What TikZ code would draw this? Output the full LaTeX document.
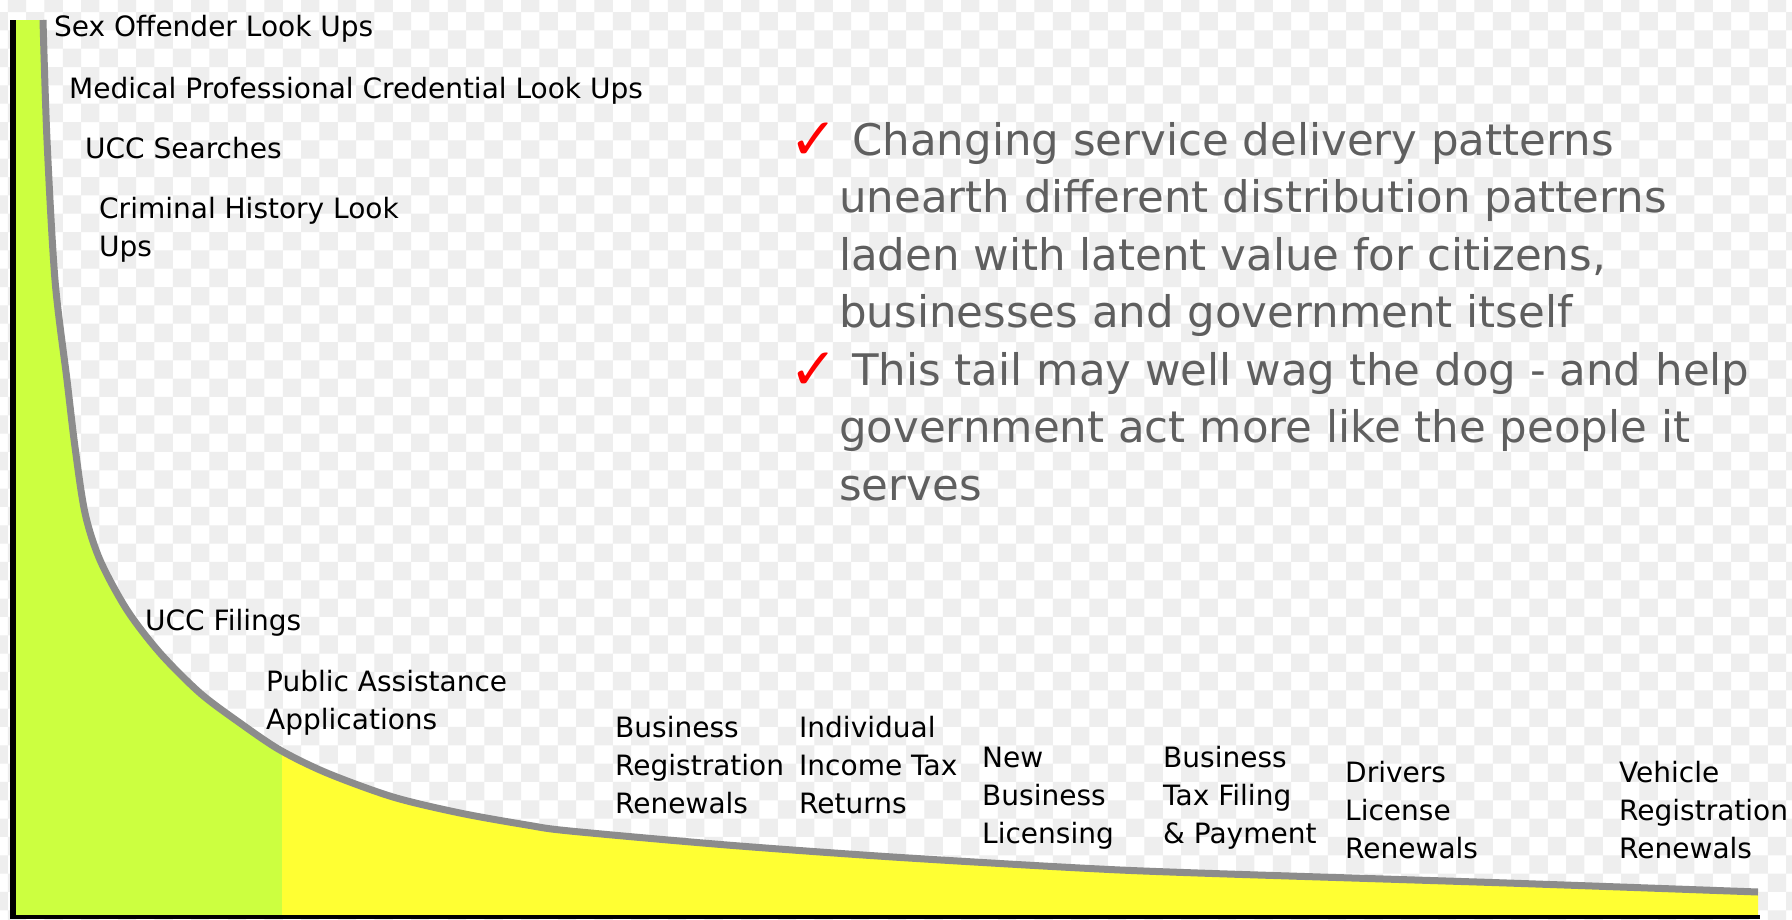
\documentclass[tikz,border=0pt]{standalone}
\usepackage{fontspec}
\setmainfont{DejaVu Sans}
\definecolor{limeg}{RGB}{204,255,64}
\definecolor{yel}{RGB}{255,255,51}
\definecolor{curvegray}{RGB}{140,140,140}
\definecolor{txtgray}{RGB}{95,95,95}
\definecolor{chk}{RGB}{238,238,238}
\begin{document}
\begin{tikzpicture}[x=1pt,y=-1pt,
  lbl/.style={anchor=north west, inner sep=0pt, align=left, font=\fontsize{28}{38}\selectfont},
  bul/.style={anchor=north west, inner sep=0pt, align=left, text=txtgray, font=\fontsize{43.5}{57.5}\selectfont},
  chkmark/.style={anchor=base west, inner sep=0pt, text=red, font=\fontsize{58}{60}\selectfont},
  curveline/.style={draw=curvegray, line width=7pt},
  axisline/.style={draw=black, line width=6pt},
  baseline/.style={draw=black, line width=4pt}]
\useasboundingbox (0,0) rectangle (1792,919);
\fill[white] (0,0) rectangle (1792,919);
% checkerboard background
\begin{scope}
\clip (0,0) rectangle (1792,919);
\fill[chk] \foreach \j in {-1,...,50} { \foreach \i in {-1,...,49} { ({7.8+(2*\i+mod(\j+1,2))*18.333},{12+\j*18.333}) rectangle ++(18.333,18.333) } };
\end{scope}
% filled area under the curve
\begin{scope}
\clip (13,20) -- plot[smooth] coordinates {(43,20) (47,140) (55,280) (67,380) (75,447) (85,513) (100,560) (127,610) (160,653) (200,693) (240,723) (280,750) (327,773) (393,797) (460,813) (527,825) (570,831) (727,845) (893,857) (1080,868) (1198,873) (1507,883) (1758,892)} -- (1758,917) -- (13,917) -- cycle;
\fill[limeg] (0,0) rectangle (282,919);
\fill[yel] (282,0) rectangle (1792,919);
\end{scope}
% curve
\draw[curveline] plot[smooth] coordinates {(43,20) (47,140) (55,280) (67,380) (75,447) (85,513) (100,560) (127,610) (160,653) (200,693) (240,723) (280,750) (327,773) (393,797) (460,813) (527,825) (570,831) (727,845) (893,857) (1080,868) (1198,873) (1507,883) (1758,892)};
% axes
\coordinate (top) at (13,20);
\coordinate (origin) at (13,917);
\coordinate (xend) at (1760,917);
\draw[axisline] (top) -- (13,919);
\draw[baseline] (10,917) -- (xend);
% labels
\node[lbl] (sex) at (54,15) {Sex Offender Look Ups};
\node[lbl] (med) at (69,77) {Medical Professional Credential Look Ups};
\node[lbl] (uccs) at (85,137) {UCC Searches};
\node[lbl] (crim) at (99,197) {Criminal History Look\\Ups};
\node[lbl] (uccf) at (145,609) {UCC Filings};
\node[lbl] (pub) at (266,670) {Public Assistance\\Applications};
\node[lbl] (bizreg) at (615,716) {Business\\Registration\\Renewals};
\node[lbl] (indiv) at (799,716) {Individual\\Income Tax\\Returns};
\node[lbl] (newbiz) at (982,747) {New\\Business\\Licensing};
\node[lbl] (biztax) at (1163,746) {Business\\Tax Filing\\\& Payment};
\node[lbl] (drivers) at (1345,761) {Drivers\\License\\Renewals};
\node[lbl] (vehicle) at (1619,761) {Vehicle\\Registration\\Renewals};
% bullets
\node[chkmark] (c1) at (789,159) {✓};
\node[bul] (b1) at (839,122) {\hspace*{13pt}Changing service delivery patterns\\unearth different distribution patterns\\laden with latent value for citizens,\\businesses and government itself};
\node[chkmark] (c2) at (789,389) {✓};
\node[bul] (b2) at (839,352) {\hspace*{13pt}This tail may well wag the dog - and help\\government act more like the people it\\serves};
\end{tikzpicture}
\end{document}
